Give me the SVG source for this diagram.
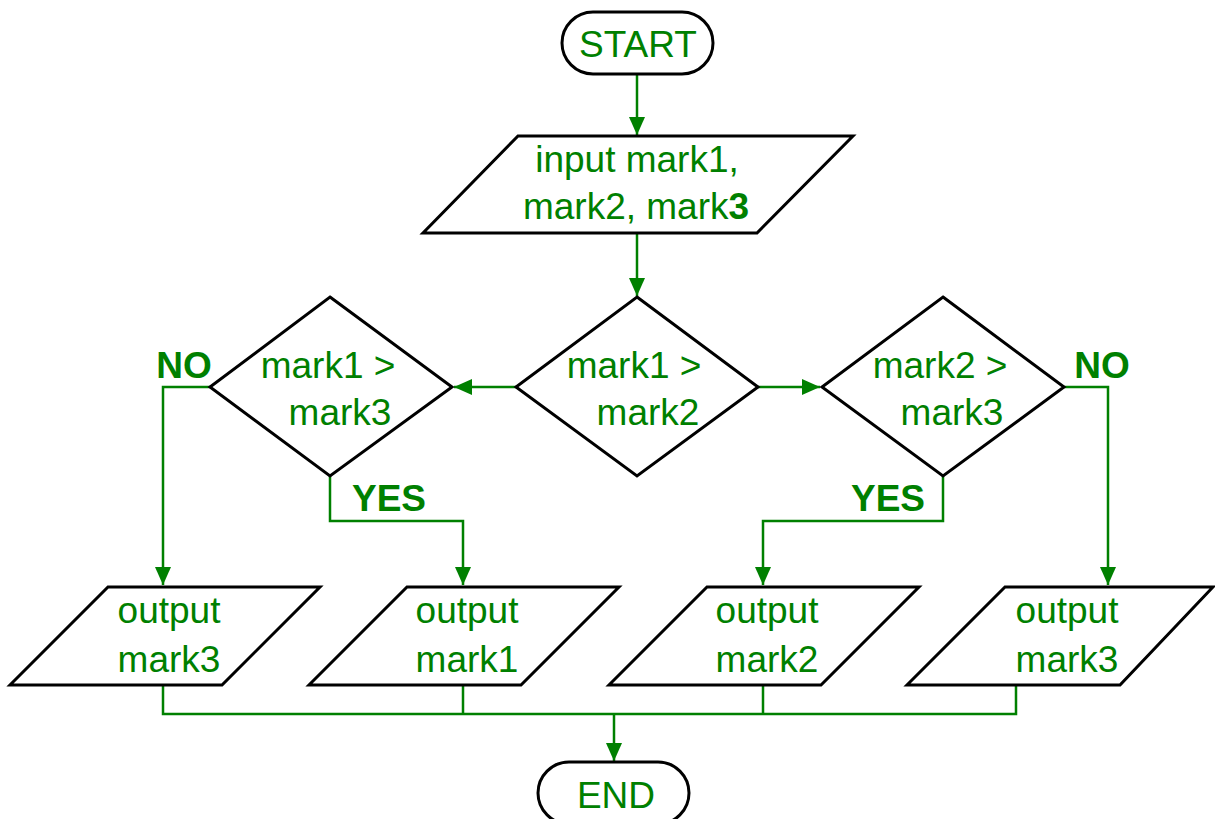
<svg xmlns="http://www.w3.org/2000/svg" width="1215" height="819" viewBox="0 0 1215 819">
<defs>
<style>
.shape{fill:#fff;stroke:#000;stroke-width:3;stroke-linejoin:miter}
.t{font-family:"Liberation Sans",Arial,sans-serif;font-size:37px;fill:#008000;text-anchor:middle}
.b{font-weight:bold}
.c{fill:none;stroke:#008000;stroke-width:2.5}
</style>
<marker id="ah" markerUnits="userSpaceOnUse" markerWidth="18" markerHeight="16" refX="18" refY="8" orient="auto">
<path d="M0,0 L18,8 L0,16 z" fill="#008000"/>
</marker>
</defs>
<rect width="1215" height="819" fill="#fff"/>
<g id="connectors">
<path class="c" d="M637,74 V135" marker-end="url(#ah)"/>
<path class="c" d="M637,233 V296" marker-end="url(#ah)"/>
<path class="c" d="M516,387 H454" marker-end="url(#ah)"/>
<path class="c" d="M758,387 H820" marker-end="url(#ah)"/>
<path class="c" d="M210,387 H163 V585" marker-end="url(#ah)"/>
<path class="c" d="M330,476 V521 H463 V585" marker-end="url(#ah)"/>
<path class="c" d="M943,476 V521 H763 V585" marker-end="url(#ah)"/>
<path class="c" d="M1064,387 H1108 V585" marker-end="url(#ah)"/>
<path class="c" d="M163,685 V714 H1016 V685 M463,685 V714 M763,685 V714"/>
<path class="c" d="M614,714 V761" marker-end="url(#ah)"/>
<text class="t b" x="184" y="378">NO</text>
<text class="t b" x="389" y="511">YES</text>
<text class="t b" x="888" y="511">YES</text>
<text class="t b" x="1102" y="378">NO</text>
</g>
<g id="start">
<rect class="shape" x="562" y="12" width="151" height="62" rx="31" ry="31"/>
<text class="t" x="638" y="57">START</text>
</g>
<g id="input">
<polygon class="shape" points="518,136 853,136 757,233 423,233"/>
<text class="t" x="637" y="172">input mark1,</text>
<text class="t" x="636" y="219">mark2, mark<tspan class="b">3</tspan></text>
</g>
<g id="d_center">
<polygon class="shape" points="637,297 758,387 637,476 516,387"/>
<text class="t" x="634" y="378">mark1 &gt;</text>
<text class="t" x="648" y="425">mark2</text>
</g>
<g id="d_left">
<polygon class="shape" points="330,297 452,387 330,476 210,387"/>
<text class="t" x="328" y="378">mark1 &gt;</text>
<text class="t" x="340" y="425">mark3</text>
</g>
<g id="d_right">
<polygon class="shape" points="943,297 1064,387 943,476 822,387"/>
<text class="t" x="940" y="378">mark2 &gt;</text>
<text class="t" x="952" y="425">mark3</text>
</g>
<g id="out_mark3_left">
<polygon class="shape" points="108,587 320,587 222,685 10,685"/>
<text class="t" x="169" y="623">output</text>
<text class="t" x="169" y="672">mark3</text>
</g>
<g id="out_mark1">
<polygon class="shape" points="407,587 619,587 521,685 309,685"/>
<text class="t" x="467" y="623">output</text>
<text class="t" x="467" y="672">mark1</text>
</g>
<g id="out_mark2">
<polygon class="shape" points="707,587 919,587 821,685 609,685"/>
<text class="t" x="767" y="623">output</text>
<text class="t" x="767" y="672">mark2</text>
</g>
<g id="out_mark3_right">
<polygon class="shape" points="1005,587 1213,587 1120,685 907,685"/>
<text class="t" x="1067" y="623">output</text>
<text class="t" x="1067" y="672">mark3</text>
</g>
<g id="end">
<rect class="shape" x="538" y="762" width="151" height="62" rx="31" ry="31"/>
<text class="t" x="616" y="808">END</text>
</g>
</svg>
